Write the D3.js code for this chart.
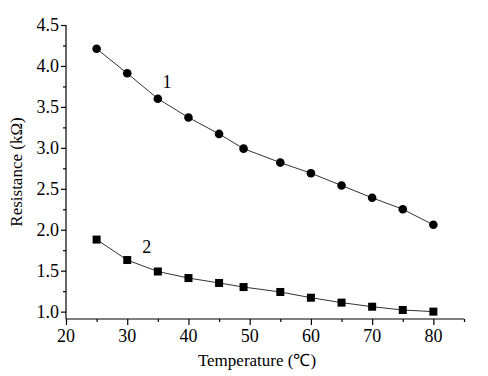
<!DOCTYPE html>
<html><head><meta charset="utf-8">
<script src="https://cdn.jsdelivr.net/npm/d3@7"></script>
<style>body{margin:0;background:#fff;}</style>
</head><body>
<svg id="c" width="488" height="376"></svg>
<script>
const temps = [25, 30, 35, 40, 45, 49, 55, 60, 65, 70, 75, 80];
const series1 = [4.21, 3.91, 3.60, 3.37, 3.17, 2.99, 2.82, 2.69, 2.54, 2.39, 2.25, 2.06];
const series2 = [1.88, 1.63, 1.49, 1.41, 1.35, 1.30, 1.24, 1.17, 1.11, 1.06, 1.02, 1.00];
const xTicks = [20, 30, 40, 50, 60, 70, 80];
const xMinor = [25, 35, 45, 55, 65, 75, 85];
const yTicks = [1.0, 1.5, 2.0, 2.5, 3.0, 3.5, 4.0, 4.5];
const yMinor = [1.25, 1.75, 2.25, 2.75, 3.25, 3.75, 4.25];
const seriesLabels = ["1", "2"];
const FONT = "'Liberation Serif', 'Times New Roman', serif";

const svg = d3.select("#c");
const x = d3.scaleLinear().domain([20, 85]).range([66, 464]);
const y = d3.scaleLinear().domain([0.91, 4.5]).range([319, 25]);

svg.append("g").attr("transform","translate(0,319)")
  .call(d3.axisBottom(x).tickValues(xMinor).tickSize(3).tickFormat(""))
  .call(g=>g.select(".domain").remove());
svg.append("g").attr("transform","translate(66,0)")
  .call(d3.axisLeft(y).tickValues(yMinor).tickSize(3).tickFormat(""))
  .call(g=>g.select(".domain").remove());

const xa = svg.append("g").attr("transform","translate(0,319)")
  .call(d3.axisBottom(x).tickValues(xTicks).tickSize(6).tickSizeOuter(0).tickFormat(""));
const ya = svg.append("g").attr("transform","translate(66,0)")
  .call(d3.axisLeft(y).tickValues(yTicks).tickSize(5).tickSizeOuter(0).tickFormat(""));
svg.selectAll(".domain,.tick line").attr("stroke","#000").attr("stroke-width",1.2);
xa.select(".domain").attr("d", `M${x(20)},0H${x(85)}`);
ya.select(".domain").attr("d", `M0,${y(0.91)}V${y(4.5)}`);

// tick labels
svg.append("g").selectAll("text").data(xTicks).join("text")
  .attr("x", d => x(d)).attr("y", 342).attr("text-anchor","middle")
  .attr("font-family", FONT).attr("font-size", 18).attr("fill","#000")
  .text(d3.format("d"));
svg.append("g").selectAll("text").data(yTicks).join("text")
  .attr("x", 59).attr("y", d => y(d)).attr("dy","0.34em").attr("text-anchor","end")
  .attr("font-family", FONT).attr("font-size", 18).attr("fill","#000")
  .text(d3.format(".1f"));

const line = d3.line().x((d,i)=>x(temps[i])).y(d=>y(d));
svg.append("path").datum(series1).attr("d",line).attr("fill","none").attr("stroke","#333").attr("stroke-width",1);
svg.append("path").datum(series2).attr("d",line).attr("fill","none").attr("stroke","#333").attr("stroke-width",1);

svg.append("g").selectAll("circle").data(series1).join("circle")
  .attr("cx",(d,i)=>x(temps[i])).attr("cy",d=>y(d)).attr("r",4.3).attr("fill","#000");
svg.append("g").selectAll("rect").data(series2).join("rect")
  .attr("x",(d,i)=>x(temps[i])-4).attr("y",d=>y(d)-4).attr("width",8).attr("height",8).attr("fill","#000");

const txt = (sel) => sel.attr("font-family", FONT).attr("fill","#000");
svg.append("text").attr("x",x(36.5)).attr("y",y(3.62)-9).attr("text-anchor","middle")
  .attr("font-size",18).call(txt).text(seriesLabels[0]);
svg.append("text").attr("x",x(33.2)).attr("y",y(1.65)-5).attr("text-anchor","middle")
  .attr("font-size",18).call(txt).text(seriesLabels[1]);

svg.append("text").attr("x",257).attr("y",366).attr("text-anchor","middle")
  .attr("font-size",17).call(txt).text("Temperature (℃)");
svg.append("text").attr("transform","translate(22,172) rotate(-90)").attr("text-anchor","middle")
  .attr("font-size",17).call(txt).text("Resistance (kΩ)");
</script>
</body></html>
